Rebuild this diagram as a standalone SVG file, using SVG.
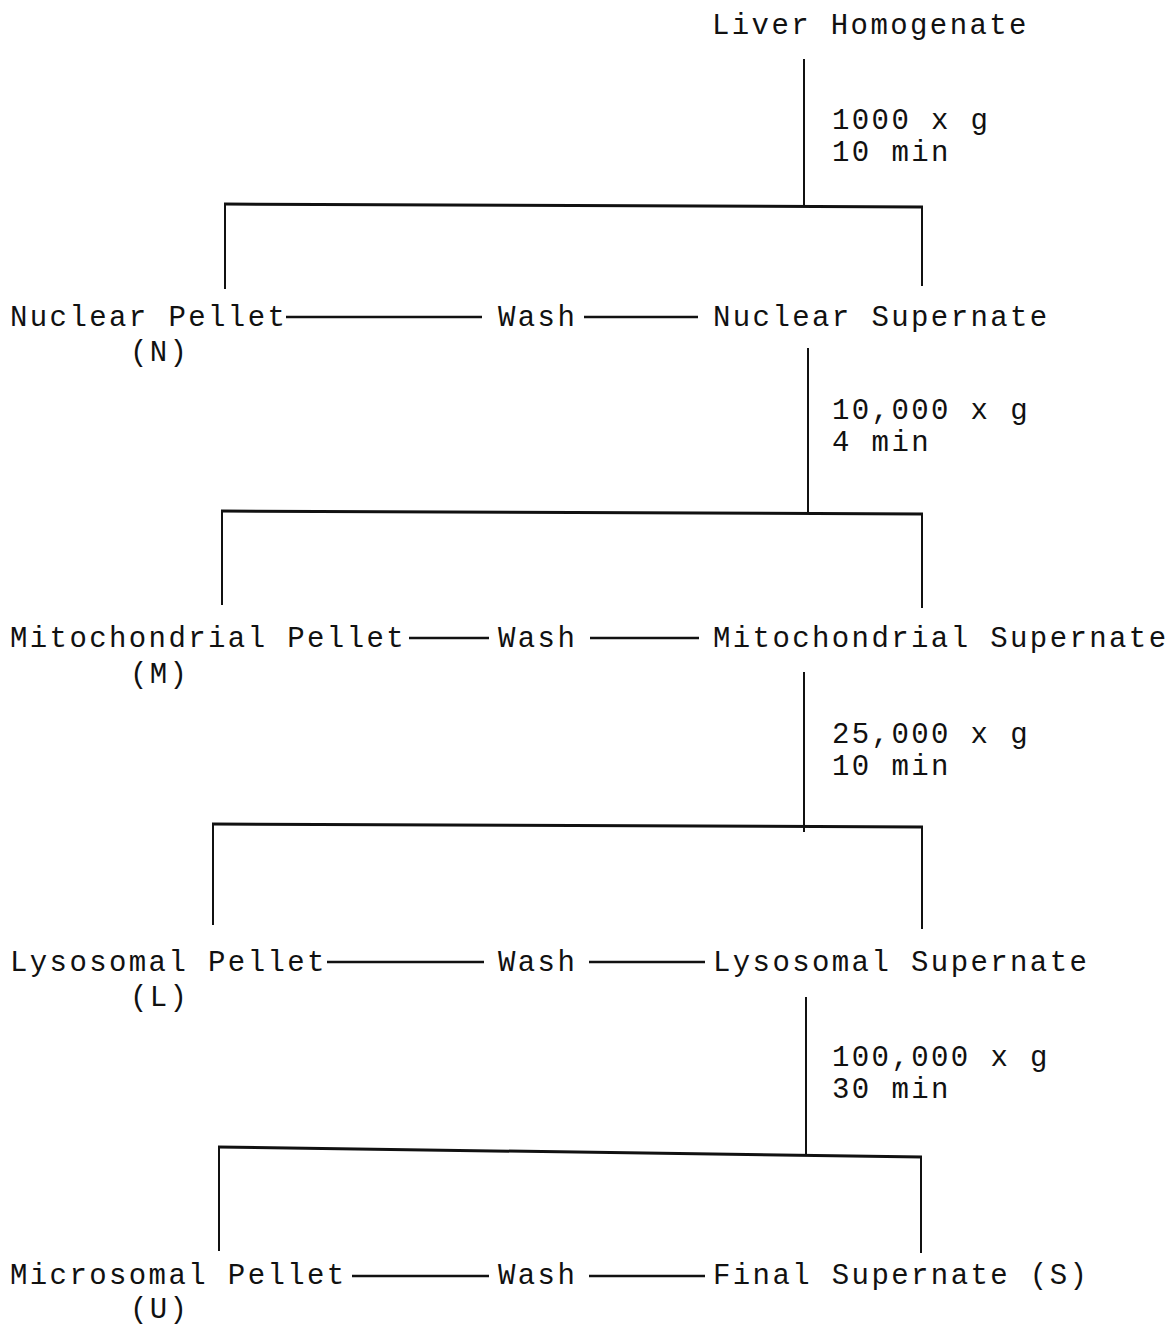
<svg xmlns="http://www.w3.org/2000/svg" width="1168" height="1328" viewBox="0 0 1168 1328">
<style>
text{font-family:"Liberation Mono","Courier New",monospace;font-size:29px;letter-spacing:2.4px;fill:#111}
.v{stroke:#111;stroke-width:2;fill:none}
.h{stroke:#111;stroke-width:3;fill:none}
.w{stroke:#111;stroke-width:2.5;fill:none}
</style>
<rect width="1168" height="1328" fill="#fff"/>
<g id="liver-homogenate"><text x="712" y="34">Liver Homogenate</text></g>
<g id="spin1-label"><text x="832" y="129">1000 x g</text><text x="832" y="161">10 min</text></g>
<g id="nuclear-pellet"><text x="10" y="326">Nuclear Pellet</text><text x="130" y="361">(N)</text></g>
<g id="wash1"><text x="498" y="326">Wash</text></g>
<g id="nuclear-supernate"><text x="713" y="326">Nuclear Supernate</text></g>
<g id="spin2-label"><text x="832" y="419">10,000 x g</text><text x="832" y="451">4 min</text></g>
<g id="mitochondrial-pellet"><text x="10" y="647">Mitochondrial Pellet</text><text x="130" y="683">(M)</text></g>
<g id="wash2"><text x="498" y="647">Wash</text></g>
<g id="mitochondrial-supernate"><text x="713" y="647">Mitochondrial Supernate</text></g>
<g id="spin3-label"><text x="832" y="743">25,000 x g</text><text x="832" y="775">10 min</text></g>
<g id="lysosomal-pellet"><text x="10" y="971">Lysosomal Pellet</text><text x="130" y="1006">(L)</text></g>
<g id="wash3"><text x="498" y="971">Wash</text></g>
<g id="lysosomal-supernate"><text x="713" y="971">Lysosomal Supernate</text></g>
<g id="spin4-label"><text x="832" y="1066">100,000 x g</text><text x="832" y="1098">30 min</text></g>
<g id="microsomal-pellet"><text x="10" y="1284">Microsomal Pellet</text><text x="130" y="1318">(U)</text></g>
<g id="wash4"><text x="498" y="1284">Wash</text></g>
<g id="final-supernate"><text x="713" y="1284">Final Supernate (S)</text></g>
<g id="connectors">
<line class="v" x1="804" y1="59" x2="804" y2="207"/>
<line class="h" x1="224" y1="204" x2="923" y2="207"/>
<line class="v" x1="225" y1="204" x2="225" y2="289"/>
<line class="v" x1="922" y1="207" x2="922" y2="286"/>
<line class="w" x1="286" y1="317" x2="482" y2="317"/>
<line class="w" x1="584" y1="317" x2="698" y2="317"/>

<line class="v" x1="808" y1="348" x2="808" y2="513"/>
<line class="h" x1="221" y1="511" x2="923" y2="514"/>
<line class="v" x1="222" y1="511" x2="222" y2="605"/>
<line class="v" x1="922" y1="514" x2="922" y2="608"/>
<line class="w" x1="409" y1="638" x2="489" y2="638"/>
<line class="w" x1="590" y1="638" x2="699" y2="638"/>

<line class="v" x1="804" y1="672" x2="804" y2="832"/>
<line class="h" x1="212" y1="824" x2="923" y2="827"/>
<line class="v" x1="213" y1="824" x2="213" y2="925"/>
<line class="v" x1="922" y1="827" x2="922" y2="929"/>
<line class="w" x1="327" y1="962" x2="484" y2="962"/>
<line class="w" x1="589" y1="962" x2="705" y2="962"/>

<line class="v" x1="806" y1="997" x2="806" y2="1156"/>
<line class="h" x1="218" y1="1147" x2="922" y2="1157"/>
<line class="v" x1="219" y1="1147" x2="219" y2="1251"/>
<line class="v" x1="921" y1="1157" x2="921" y2="1253"/>
<line class="w" x1="352" y1="1276" x2="489" y2="1276"/>
<line class="w" x1="589" y1="1276" x2="705" y2="1276"/>
</g>
</svg>
